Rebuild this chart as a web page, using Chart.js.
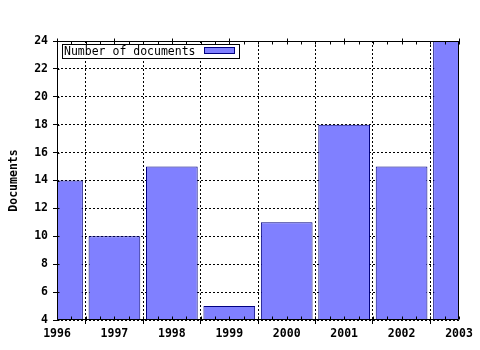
<!DOCTYPE html>
<html><head><meta charset="utf-8">
<script src="https://cdn.jsdelivr.net/npm/chart.js@4/dist/chart.umd.min.js"></script>
<style>html,body{margin:0;padding:0;background:#fff}</style>
</head><body>
<canvas id="c" width="480" height="350"></canvas>
<script>
const years = [1996, 1997, 1998, 1999, 2000, 2001, 2002, 2003];
const documents = [14, 10, 15, 5, 11, 18, 15, 24];
const seriesLabel = 'Number of documents';
const yTitle = 'Documents';
const yMin = 4, yMax = 24, yStep = 2;
const xMin = 1996, xMax = 2003;

const FONT = "'DejaVu Sans Mono', monospace";
const FILL = '#8080ff', EDGE = '#000080';

const framePlugin = {
  id: 'frame',
  afterDatasetsDraw(chart) {
    const { ctx, chartArea: a, scales: { x, y } } = chart;
    const L = Math.round(a.left) + 0.5, R = Math.round(a.right) - 0.5;
    const T = Math.round(a.top) + 0.5, B = Math.round(a.bottom) - 0.5;
    ctx.save();
    ctx.strokeStyle = '#000';
    ctx.lineWidth = 1;
    ctx.setLineDash([]);
    ctx.beginPath();
    ctx.moveTo(L, T); ctx.lineTo(R, T); ctx.lineTo(R, B); ctx.lineTo(L, B); ctx.closePath();
    // x ticks (major + minor)
    for (let q = xMin * 4; q <= xMax * 4; q++) {
      const v = q / 4;
      const px = Math.round(x.getPixelForValue(v)) + 0.5;
      if (q % 4 === 0) {
        ctx.moveTo(px, T - 3); ctx.lineTo(px, T + 3);
        ctx.moveTo(px, B); ctx.lineTo(px, B - 3);
      } else {
        ctx.moveTo(px, T); ctx.lineTo(px, T + 3);
        ctx.moveTo(px, B); ctx.lineTo(px, B - 3);
      }
    }
    // y ticks inward
    for (let v = yMin; v <= yMax; v += yStep) {
      const py = Math.round(y.getPixelForValue(v)) + 0.5;
      ctx.moveTo(L, py); ctx.lineTo(L + 2, py);
    }
    ctx.stroke();

    // legend box
    const bx = 62.5, by = 44.5, bw = 177, bh = 14;
    ctx.fillStyle = '#fff';
    ctx.fillRect(bx, by, bw, bh);
    ctx.strokeRect(bx, by, bw, bh);
    ctx.fillStyle = '#000';
    ctx.font = '11.5px ' + FONT;
    ctx.textBaseline = 'middle';
    ctx.textAlign = 'left';
    ctx.fillText(chart.data.datasets[0].label, 64, by + bh / 2 + 0.5);
    ctx.fillStyle = FILL;
    ctx.fillRect(204.5, 47.5, 30, 6);
    ctx.strokeStyle = EDGE;
    ctx.strokeRect(204.5, 47.5, 30, 6);
    ctx.restore();
  }
};

new Chart(document.getElementById('c'), {
  type: 'bar',
  data: {
    datasets: [{
      label: seriesLabel,
      data: years.map((yr, i) => ({ x: yr, y: documents[i] })),
      backgroundColor: FILL,
      borderColor: EDGE,
      borderWidth: 1,
      barPercentage: 0.9,
      categoryPercentage: 1,
      clip: 0
    }]
  },
  options: {
    responsive: false,
    animation: false,
    devicePixelRatio: 1,
    layout: { padding: { top: 41, right: 21, left: 0, bottom: 0 } },
    plugins: { legend: { display: false }, tooltip: { enabled: false } },
    scales: {
      x: {
        type: 'linear',
        min: xMin, max: xMax,
        offset: false,
        afterFit(s) { s.height = 30; },
        ticks: {
          stepSize: 1,
          padding: 3,
          color: '#000',
          font: { family: FONT, size: 11.5, weight: 'bold' },
          callback: v => String(v),
          maxRotation: 0
        },
        grid: { color: '#000', tickColor: '#000', tickLength: 4, lineWidth: 1, drawTicks: true },
        border: { display: false, dash: [2, 2] }
      },
      y: {
        min: yMin, max: yMax,
        afterFit(s) { s.width = 57; },
        ticks: {
          stepSize: yStep,
          padding: 5,
          color: '#000',
          font: { family: FONT, size: 11.5, weight: 'bold' }
        },
        grid: { color: '#000', tickColor: '#000', tickLength: 4, lineWidth: 1, drawTicks: true },
        border: { display: false, dash: [2, 2] },
        title: {
          display: true,
          text: yTitle,
          color: '#000',
          font: { family: FONT, size: 11.5, weight: 'bold' },
          padding: { top: 7, bottom: 0 }
        }
      }
    }
  },
  plugins: [framePlugin]
});
</script>
</body></html>
